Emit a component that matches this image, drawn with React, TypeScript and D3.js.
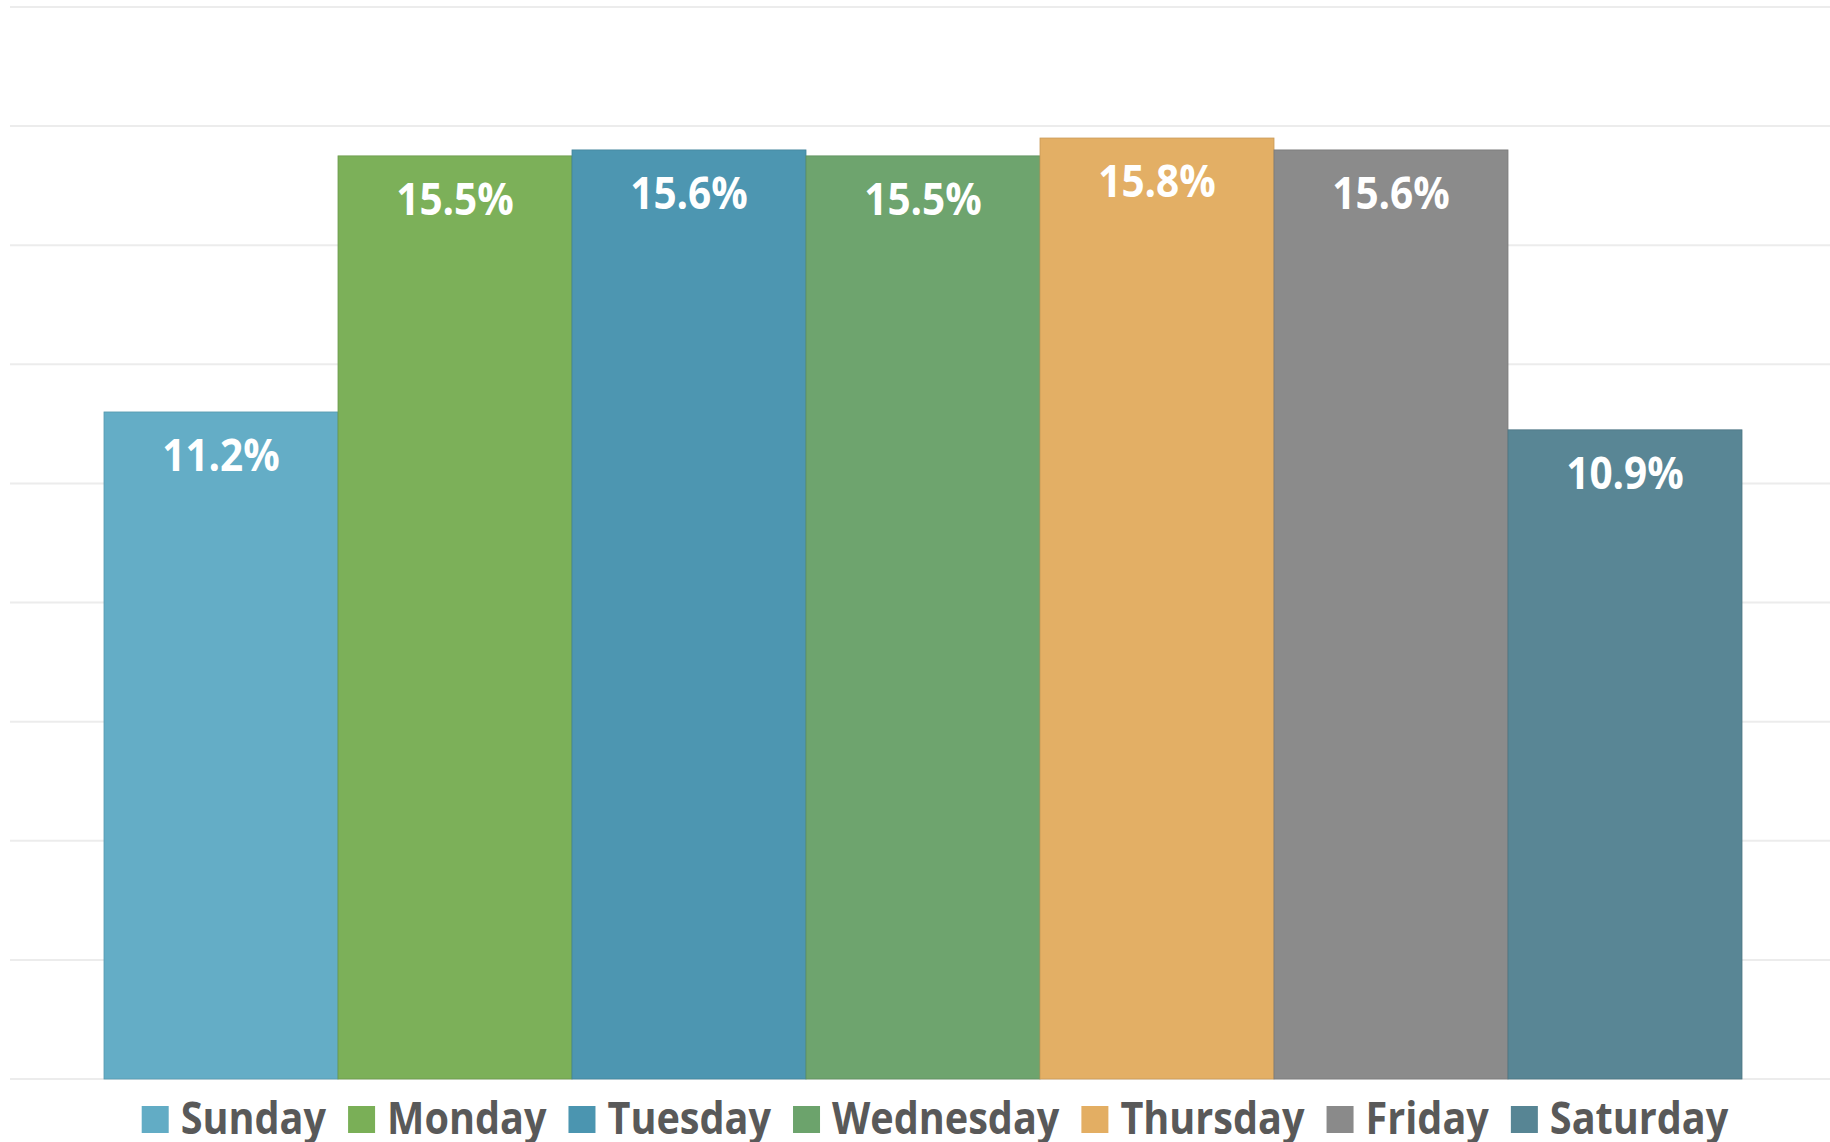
import React, { useRef, useEffect } from 'react';
import * as d3 from 'd3';

// ─── data ───
const days = ['Sunday', 'Monday', 'Tuesday', 'Wednesday', 'Thursday', 'Friday', 'Saturday'];
const shares = [11.2, 15.5, 15.6, 15.5, 15.8, 15.6, 10.9];
const dayColors = ['#62acc5', '#7aaf57', '#4b95b0', '#6ca36c', '#e3ae63', '#8a8a8a', '#578594'];
const yTicks = [0, 2, 4, 6, 8, 10, 12, 14, 16, 18];

const W = 1830;
const H = 1142;
const FONT = '"Open Sans", "Noto Sans", sans-serif';

export default function App() {
  const svgRef = useRef<SVGSVGElement>(null);

  useEffect(() => {
    if (!svgRef.current) return;
    const svg = d3.select(svgRef.current);
    svg.selectAll('*').remove();

    const y = d3.scaleLinear().domain([0, 18]).range([1079, 7]);
    const x = d3.scaleBand<string>().domain(days).range([104, 1742]).paddingInner(0).paddingOuter(0);

    // gridlines
    svg.append('g')
      .selectAll('line')
      .data(yTicks)
      .enter()
      .append('line')
      .attr('x1', 10).attr('x2', W)
      .attr('y1', d => y(d)).attr('y2', d => y(d))
      .attr('stroke', '#ececec')
      .attr('stroke-width', 2);

    // bars
    svg.append('g')
      .selectAll('rect')
      .data(days)
      .enter()
      .append('rect')
      .attr('x', d => x(d)!)
      .attr('y', (d, i) => y(shares[i]))
      .attr('width', x.bandwidth())
      .attr('height', (d, i) => y(0) - y(shares[i]))
      .attr('fill', (d, i) => dayColors[i])
      .attr('fill-opacity', 0.99)
      .attr('stroke', (d, i) => d3.color(dayColors[i])!.darker(0.35).toString())
      .attr('stroke-width', 0.8);

    // value labels
    const labels = svg.append('g')
      .selectAll('text')
      .data(days)
      .enter()
      .append('text')
      .attr('x', d => x(d)! + x.bandwidth() / 2)
      .attr('y', (d, i) => y(shares[i]) + 59)
      .attr('text-anchor', 'middle')
      .attr('fill', '#ffffff')
      .attr('font-family', FONT)
      .attr('font-weight', 'bold')
      .attr('font-size', 45)
      .text((d, i) => `${shares[i].toFixed(1)}%`);
    labels.each(function () {
      const t = this as SVGTextElement;
      const w = t.getComputedTextLength();
      t.setAttribute('textLength', String(w * 0.9));
      t.setAttribute('lengthAdjust', 'spacingAndGlyphs');
    });

    // legend
    const lg = svg.append('g');
    const sq = 27;
    const gapSq = 12;
    const gapItem = 22;
    let cx = 0;
    const items = days.map((d, i) => {
      const g = lg.append('g');
      g.append('rect')
        .attr('x', 0).attr('y', 1106)
        .attr('width', sq).attr('height', sq)
        .attr('fill', dayColors[i]);
      const t = g.append('text')
        .attr('x', sq + gapSq)
        .attr('y', 1134)
        .attr('fill', '#595959')
        .attr('font-family', FONT)
        .attr('font-weight', 'bold')
        .attr('font-size', 44)
        .text(d);
      const node = t.node() as SVGTextElement;
      const tw = node.getComputedTextLength() * 0.9;
      node.setAttribute('textLength', String(tw));
      node.setAttribute('lengthAdjust', 'spacingAndGlyphs');
      const itemW = sq + gapSq + tw;
      const pos = cx;
      cx += itemW + gapItem;
      return { g, pos };
    });
    const total = cx - gapItem;
    const start = 935 - total / 2;
    items.forEach(({ g, pos }) => g.attr('transform', `translate(${start + pos},0)`));
  }, []);

  return (
    <div style={{ position: 'absolute', left: 0, top: 0, width: W, height: H, background: '#fff' }}>
      <svg ref={svgRef} width={W} height={H} style={{ display: 'block' }} />
    </div>
  );
}
